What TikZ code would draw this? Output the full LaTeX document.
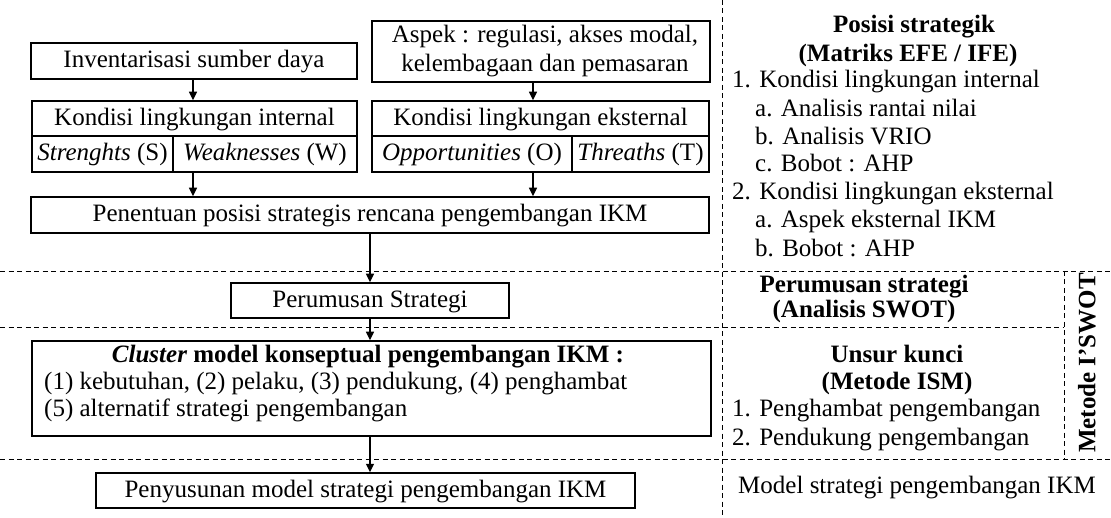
\documentclass[tikz,border=0pt]{standalone}
\usepackage{fontspec}
\setmainfont{Liberation Serif}
\usetikzlibrary{arrows.meta}
\begin{document}
\begin{tikzpicture}[x=1pt,y=-1pt,
  font=\fontsize{25}{29}\selectfont,
  box/.style={draw, line width=1.5pt, inner sep=0pt, text height=18.5pt, text depth=4.5pt, align=center},
  lbl/.style={inner sep=0pt, anchor=base},
  lblw/.style={inner sep=0pt, anchor=base west},
  ttl/.style={inner sep=0pt, anchor=base, font=\fontsize{25}{29}\selectfont\bfseries},
  arr/.style={-{Triangle[length=8.5pt,width=8pt]}, line width=1.3pt},
  dsh/.style={dash pattern=on 5pt off 3.5pt, line width=0.9pt}]
\useasboundingbox (0,0) rectangle (1111,518);

% dashed guides
\draw[dsh] (722,0) -- (722,518);
\draw[dsh] (0,271) -- (1111,271);
\draw[dsh] (0,327) -- (1064,327);
\draw[dsh] (0,459) -- (1111,459);
\draw[dsh] (1064,271) -- (1064,459);

% left flow
\node[box, minimum width=326pt, minimum height=36pt] (inv) at (194,61) {Inventarisasi sumber daya};
\node[box, minimum width=338pt, minimum height=61pt] (asp) at (541,51.5) {};
\node[lbl] (asp1) at (545,43) {Aspek : regulasi, akses modal,};
\node[lbl] (asp2) at (545,72) {kelembagaan dan pemasaran};

\node[box, minimum width=325pt, minimum height=35pt] (kint) at (194.5,118.5) {Kondisi lingkungan internal};
\node[box, minimum width=141pt, minimum height=36pt] (sS) at (102.5,154) {\textit{Strenghts} (S)};
\node[box, minimum width=184pt, minimum height=36pt] (sW) at (265,154) {\textit{Weaknesses} (W)};

\node[box, minimum width=337pt, minimum height=35pt] (kext) at (540.5,118.5) {Kondisi lingkungan eksternal};
\node[box, minimum width=200pt, minimum height=36pt] (sO) at (472,154) {\textit{Opportunities} (O)};
\node[box, minimum width=137pt, minimum height=36pt] (sT) at (640.5,154) {\textit{Threaths} (T)};

\node[box, minimum width=678pt, minimum height=36pt] (pen) at (370,215) {Penentuan posisi strategis rencana pengembangan IKM};
\node[box, minimum width=278pt, minimum height=35pt] (per) at (370,300.5) {Perumusan Strategi};
\node[box, minimum width=679pt, minimum height=95pt] (clu) at (371.5,388.5) {};
\node[lbl] (clu1) at (368,363) {\textbf{\textit{Cluster} model konseptual pengembangan IKM :}};
\node[lblw] (clu2) at (44,390) {(1) kebutuhan, (2) pelaku, (3) pendukung, (4) penghambat};
\node[lblw] (clu3) at (44,417) {(5) alternatif strategi pengembangan};
\node[box, minimum width=539pt, minimum height=35pt] (pny) at (365.5,490.5) {Penyusunan model strategi pengembangan IKM};

% arrow columns
\coordinate (xl) at (193,0);
\coordinate (xr) at (533,0);
\coordinate (xm) at (370,0);

\draw[arr] (xl |- inv.south) -- (xl |- kint.north);
\draw[arr] (xr |- asp.south) -- (xr |- kext.north);
\draw[arr] (xl |- sW.south) -- (xl |- pen.north);
\draw[arr] (xr |- sO.south) -- (xr |- pen.north);
\draw[arr] (xm |- pen.south) -- (xm |- per.north);
\draw[arr] (xm |- per.south) -- (xm |- clu.north);
\draw[arr] (xm |- clu.south) -- (xm |- pny.north);

% right column
\node[ttl] (t1) at (914,33) {Posisi strategik};
\node[ttl] (t2) at (908,62) {(Matriks EFE / IFE)};
\node[lblw] (r1) at (732,88) {1. Kondisi lingkungan internal};
\node[lblw] (r1a) at (755,117) {a. Analisis rantai nilai};
\node[lblw] (r1b) at (755,145) {b. Analisis VRIO};
\node[lblw] (r1c) at (755,172) {c. Bobot : AHP};
\node[lblw] (r2) at (732,200) {2. Kondisi lingkungan eksternal};
\node[lblw] (r2a) at (755,228) {a. Aspek eksternal IKM};
\node[lblw] (r2b) at (755,257) {b. Bobot : AHP};

\node[ttl] (t3) at (864,293) {Perumusan strategi};
\node[ttl] (t4) at (864,318) {(Analisis SWOT)};

\node[ttl] (t5) at (897,363) {Unsur kunci};
\node[ttl] (t6) at (897,390) {(Metode ISM)};
\node[lblw] (u1) at (732,417) {1. Penghambat pengembangan};
\node[lblw] (u2) at (732,445) {2. Pendukung pengembangan};

\node[lbl] (mod) at (917,493) {Model strategi pengembangan IKM};

\node[inner sep=0pt, rotate=90, font=\fontsize{25}{29}\selectfont\bfseries] (met) at (1087,363) {Metode I’SWOT};
\end{tikzpicture}
\end{document}
